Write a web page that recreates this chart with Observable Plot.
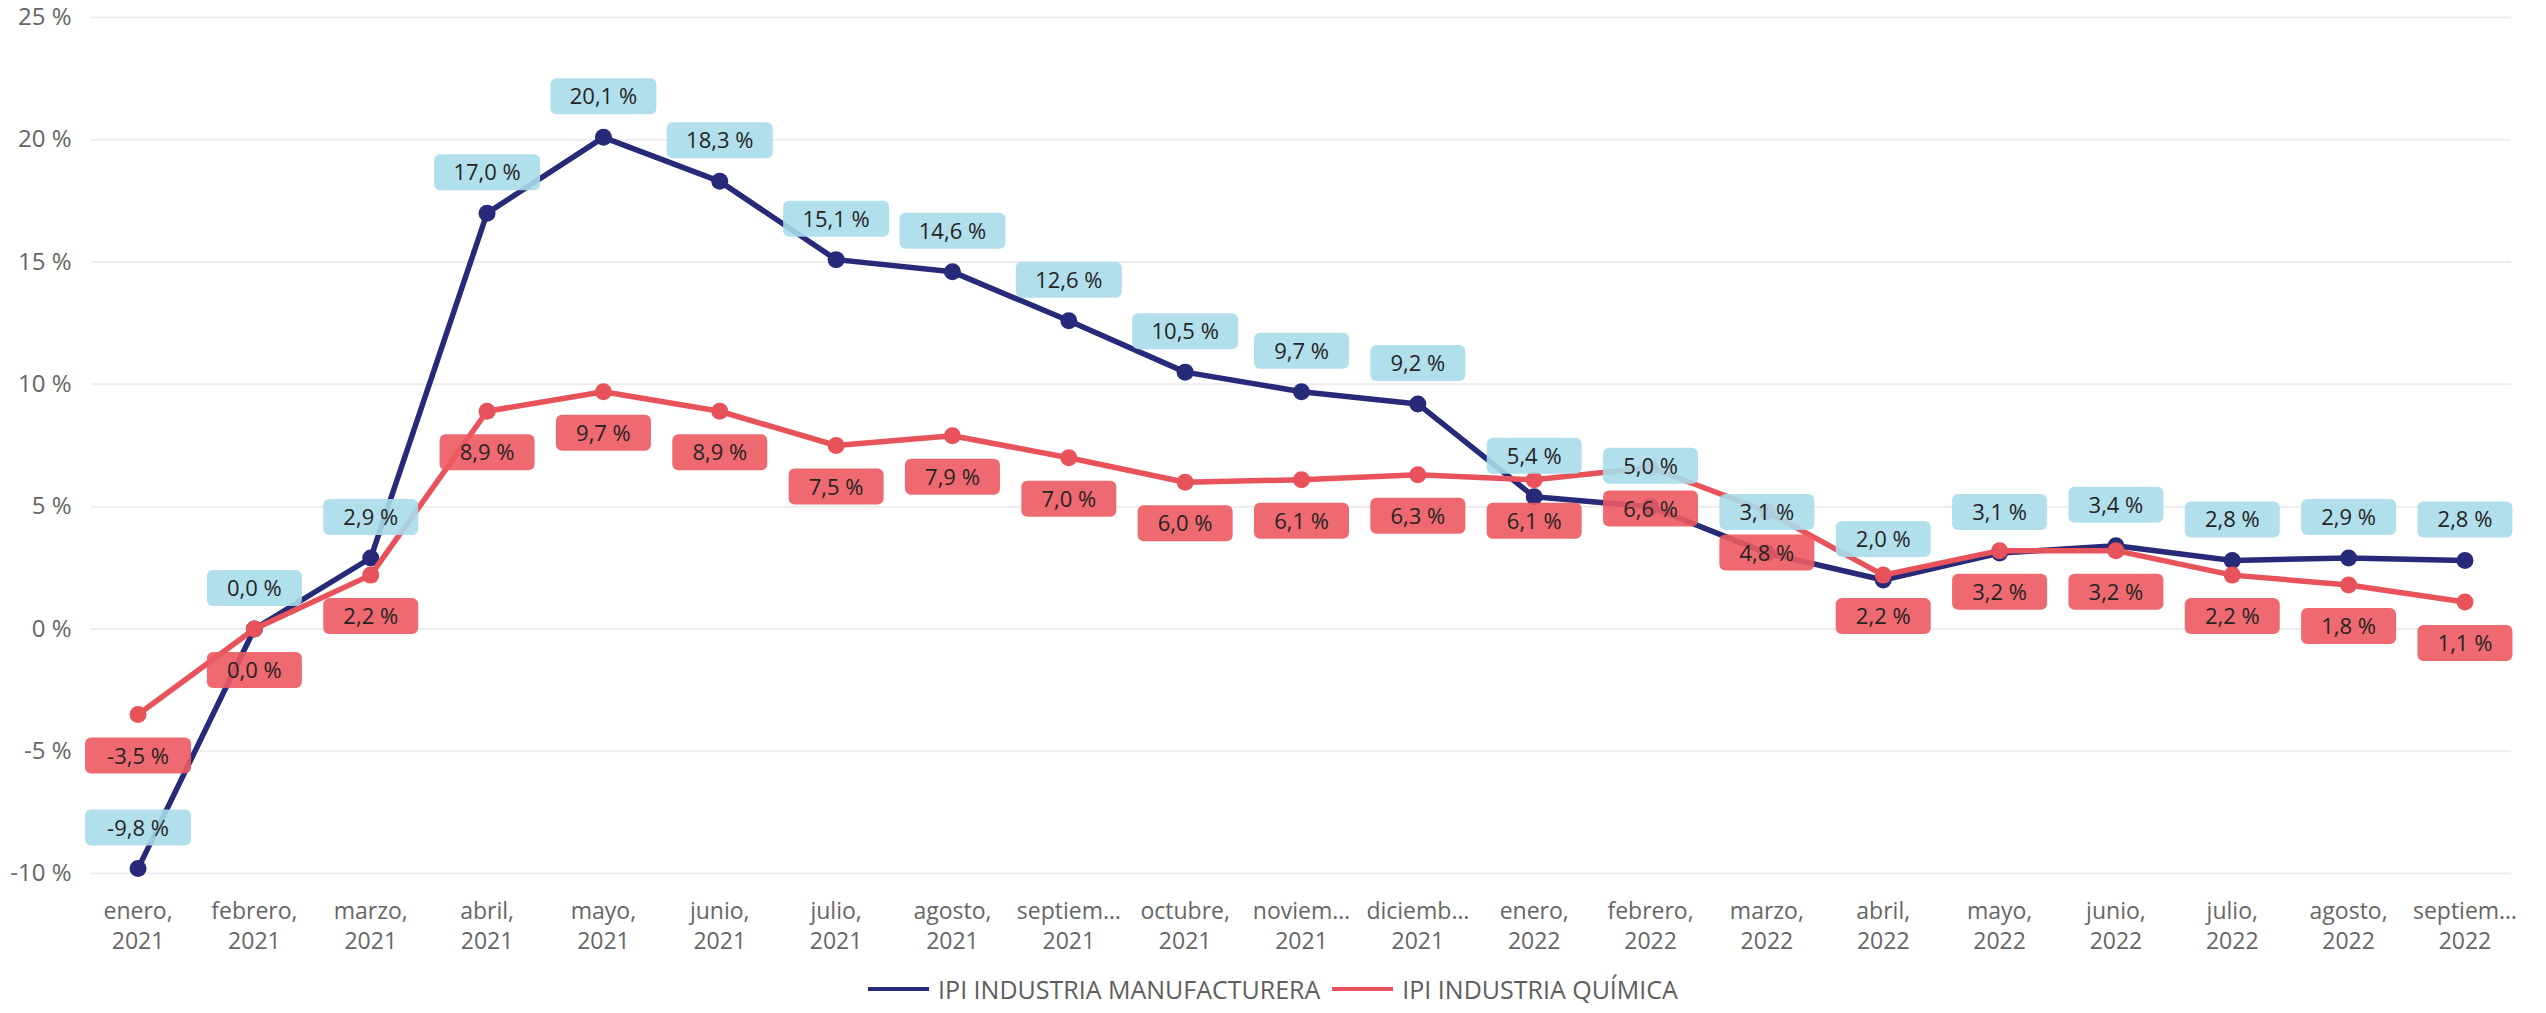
<!DOCTYPE html>
<html>
<head>
<meta charset="utf-8">
<script src="https://cdn.jsdelivr.net/npm/d3@7"></script>
<script src="https://cdn.jsdelivr.net/npm/@observablehq/plot@0.6"></script>
<style>
  html, body { margin: 0; padding: 0; background: #fff; }
  #chart svg { display: block; }
  .legend { display: flex; justify-content: center; align-items: center; height: 48px; padding-top: 0; font-family: "Open Sans", sans-serif; font-size: 25px; color: #605E5C; }
  .legend .item { display: flex; align-items: center; margin: 0 6px; }
  .legend .sw { width: 61px; height: 4px; margin-right: 9px; }
</style>
</head>
<body>
<div id="chart"></div>
<div class="legend" id="legend"></div>
<script>
// Categories (months) as displayed on the x axis
const monthLabels = [
  "enero,\n2021", "febrero,\n2021", "marzo,\n2021", "abril,\n2021", "mayo,\n2021",
  "junio,\n2021", "julio,\n2021", "agosto,\n2021", "septiem…\n2021", "octubre,\n2021",
  "noviem…\n2021", "diciemb…\n2021", "enero,\n2022", "febrero,\n2022", "marzo,\n2022",
  "abril,\n2022", "mayo,\n2022", "junio,\n2022", "julio,\n2022", "agosto,\n2022",
  "septiem…\n2022"
];
// Series values (% year-on-year)
const manufacturera = [-9.8, 0.0, 2.9, 17.0, 20.1, 18.3, 15.1, 14.6, 12.6, 10.5, 9.7, 9.2, 5.4, 5.0, 3.1, 2.0, 3.1, 3.4, 2.8, 2.9, 2.8];
const quimica = [-3.5, 0.0, 2.2, 8.9, 9.7, 8.9, 7.5, 7.9, 7.0, 6.0, 6.1, 6.3, 6.1, 6.6, 4.8, 2.2, 3.2, 3.2, 2.2, 1.8, 1.1];
// Y tick values
const yTicks = [-10, -5, 0, 5, 10, 15, 20, 25];
const seriesNames = ["IPI INDUSTRIA MANUFACTURERA", "IPI INDUSTRIA QUÍMICA"];

const NAVY = "#262A78";
const RED = "#E8525A";
const FONT = "'Open Sans', sans-serif";

const fmt = v => v.toFixed(1).replace(".", ",") + " %";
const blue = manufacturera.map((v, i) => ({i, v, label: fmt(v)}));
const red = quimica.map((v, i) => ({i, v, label: fmt(v)}));

function roundRect(w, h, rr) {
  return {
    draw(ctx) {
      const x0 = -w / 2, y0 = -h / 2, x1 = w / 2, y1 = h / 2;
      ctx.moveTo(x0 + rr, y0);
      ctx.lineTo(x1 - rr, y0);
      ctx.arcTo(x1, y0, x1, y0 + rr, rr);
      ctx.lineTo(x1, y1 - rr);
      ctx.arcTo(x1, y1, x1 - rr, y1, rr);
      ctx.lineTo(x0 + rr, y1);
      ctx.arcTo(x0, y1, x0, y1 - rr, rr);
      ctx.lineTo(x0, y0 + rr);
      ctx.arcTo(x0, y0, x0 + rr, y0, rr);
      ctx.closePath();
    }
  };
}
const shortBox = roundRect(95, 36, 6);
const longBox = roundRect(106, 36, 6);
const isLong = d => d.label.length > 5;

function labelMarks(data, dy, fill, opacity) {
  return [
    Plot.dot(data.filter(d => !isLong(d)), {x: "i", y: "v", dy, symbol: shortBox, r: 10, fill, fillOpacity: opacity, stroke: "none"}),
    Plot.dot(data.filter(isLong), {x: "i", y: "v", dy, symbol: longBox, r: 10, fill, fillOpacity: opacity, stroke: "none"}),
    Plot.text(data, {x: "i", y: "v", dy: dy + 1, text: "label", fill: "#252423", fontSize: 22, fontFamily: FONT})
  ];
}

const chart = Plot.plot({
  width: 2546,
  height: 965,
  marginLeft: 91,
  marginRight: 35,
  marginTop: 17,
  marginBottom: 92,
  style: {fontFamily: FONT, background: "#fff"},
  x: {type: "linear", domain: [-0.4, 20.4], axis: null},
  y: {domain: [-10, 25], axis: null},
  marks: [
    Plot.gridY(yTicks, {stroke: "#EDEDED", strokeOpacity: 1, strokeWidth: 2}),
    Plot.axisY(yTicks, {label: null, tickSize: 0, tickPadding: 20, tickFormat: d => `${d} %`, fontSize: 24, fill: "#666666", fontFamily: FONT}),
    Plot.axisX(d3.range(monthLabels.length), {label: null, tickSize: 0, tickPadding: 24, tickFormat: i => monthLabels[i], fontSize: 23, lineHeight: 1.3, fill: "#666666", fontFamily: FONT}),
    Plot.line(blue, {x: "i", y: "v", stroke: NAVY, strokeWidth: 5.5}),
    Plot.dot(blue, {x: "i", y: "v", r: 8.5, fill: NAVY}),
    Plot.line(red, {x: "i", y: "v", stroke: RED, strokeWidth: 5.5}),
    Plot.dot(red, {x: "i", y: "v", r: 8.5, fill: RED}),
    ...labelMarks(blue, -41, "#A9DCEA", 0.9),
    ...labelMarks(red, 41, "#EC5A61", 0.9)
  ]
});
document.getElementById("chart").appendChild(chart);

const legend = document.getElementById("legend");
[[seriesNames[0], NAVY], [seriesNames[1], RED]].forEach(([name, color]) => {
  const item = document.createElement("div");
  item.className = "item";
  const sw = document.createElement("span");
  sw.className = "sw";
  sw.style.background = color;
  const t = document.createElement("span");
  t.textContent = name;
  item.appendChild(sw);
  item.appendChild(t);
  legend.appendChild(item);
});
</script>
</body>
</html>
